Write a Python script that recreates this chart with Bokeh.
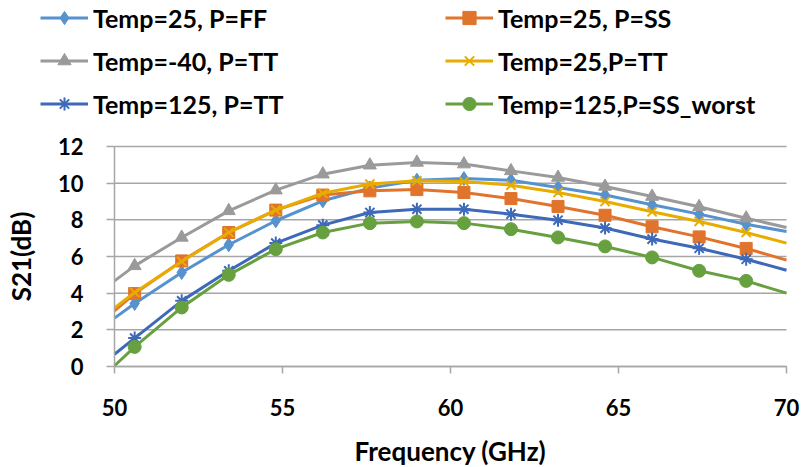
from bokeh.plotting import figure
from bokeh.models import Legend, LegendItem, Range1d, FixedTicker
from bokeh.embed import file_html
from bokeh.resources import INLINE

# Frequency points (GHz): curve ends and marker positions
freq_line = [50.0, 50.6, 52.0, 53.4, 54.8, 56.2, 57.6, 59.0, 60.4, 61.8, 63.2, 64.6, 66.0, 67.4, 68.8, 70.0]
freq_mark = freq_line[1:-1]

labels = ["Temp=25, P=FF", "Temp=25, P=SS", "Temp=-40, P=TT",
          "Temp=25,P=TT", "Temp=125, P=TT", "Temp=125,P=SS_worst"]

s21_25_ff = [2.64, 3.44, 5.13, 6.64, 7.95, 9.04, 9.73, 10.16, 10.25, 10.16, 9.76, 9.35, 8.82, 8.31, 7.76, 7.36]
s21_25_ss = [3.04, 3.98, 5.76, 7.31, 8.53, 9.35, 9.58, 9.65, 9.49, 9.16, 8.73, 8.25, 7.62, 7.07, 6.44, 5.80]
s21_m40_tt = [4.67, 5.49, 7.04, 8.49, 9.62, 10.49, 10.98, 11.13, 11.04, 10.67, 10.31, 9.82, 9.27, 8.71, 8.09, 7.58]
s21_25_tt = [3.20, 4.04, 5.73, 7.31, 8.53, 9.45, 9.95, 10.13, 10.09, 9.89, 9.49, 9.00, 8.44, 7.91, 7.31, 6.73]
s21_125_tt = [0.67, 1.55, 3.58, 5.22, 6.73, 7.71, 8.40, 8.58, 8.58, 8.31, 7.98, 7.55, 6.95, 6.45, 5.85, 5.25]
s21_125_ssw = [0.04, 1.07, 3.22, 5.00, 6.40, 7.31, 7.82, 7.91, 7.82, 7.49, 7.04, 6.55, 5.95, 5.22, 4.67, 4.00]

series = [s21_25_ff, s21_25_ss, s21_m40_tt, s21_25_tt, s21_125_tt, s21_125_ssw]
colors = ["#5592CE", "#E0742C", "#9A9A9A", "#E8AC00", "#3E69B9", "#67A03F"]
markers = ["diamond", "square", "triangle", "x", "asterisk", "circle"]
msizes = [14, 12, 13, 13, 13, 13]

x_ticks = [50, 55, 60, 65, 70]
y_ticks = [0, 2, 4, 6, 8, 10, 12]
X_MIN, X_MAX = 50, 70
Y_MIN, Y_MAX = 0, 12

FONT = "Lato"
GRID = "#A6A6A6"

# The frame covers the whole canvas; the data box (50..70, 0..12) sits at
# pixels x 114..786, y 146..366, with axes pinned to its edges.
W, H = 802, 467
BL, BR, BT, BB = 114, 786, 146, 366
xs = (X_MAX - X_MIN) / (BR - BL)
ys_ = (Y_MAX - Y_MIN) / (BB - BT)
p = figure(width=W, height=H, output_backend="svg", toolbar_location=None,
           x_range=Range1d(X_MIN - BL * xs, X_MAX + (W - BR) * xs),
           y_range=Range1d(Y_MIN - (H - BB) * ys_, Y_MAX + BT * ys_),
           min_border=0, min_border_left=0, min_border_right=0,
           min_border_top=0, min_border_bottom=0)
p.outline_line_color = None
p.grid.visible = False

# horizontal grid lines at the y ticks, spanning the data box
p.segment(x0=[X_MIN] * len(y_ticks), x1=[X_MAX] * len(y_ticks), y0=y_ticks, y1=y_ticks,
          line_color=GRID, line_width=1.5)

p.xaxis.ticker = FixedTicker(ticks=x_ticks)
p.yaxis.ticker = FixedTicker(ticks=y_ticks)
p.xaxis.fixed_location = Y_MIN
p.yaxis.fixed_location = X_MIN
p.xaxis.bounds = (X_MIN, X_MAX)
p.yaxis.bounds = (Y_MIN, Y_MAX)

for ax in (p.xaxis[0], p.yaxis[0]):
    ax.axis_line_color = GRID
    ax.axis_line_width = 1.5
    ax.major_tick_line_color = GRID
    ax.major_tick_line_width = 1.5
    ax.major_tick_in = 0
    ax.minor_tick_line_color = None
    ax.major_label_text_font = FONT
    ax.major_label_text_font_style = "bold"
    ax.major_label_text_font_size = "22px"
    ax.major_label_text_color = "#000000"
    ax.axis_label_text_font = FONT
    ax.axis_label_text_font_style = "bold"
    ax.axis_label_text_font_size = "26px"
    ax.axis_label_text_color = "#000000"

p.xaxis.major_tick_out = 7
p.xaxis.major_label_standoff = 25
p.xaxis.axis_label = "Frequency (GHz)"
p.xaxis.axis_label_standoff = 16
p.yaxis.major_tick_out = 8
p.yaxis.major_label_standoff = 23
p.yaxis.axis_label = "S21(dB)"
p.yaxis.axis_label_standoff = 18

items = []
for lab, yv, c, m, s in zip(labels, series, colors, markers, msizes):
    lw = 2 if m in ("x", "asterisk") else 1
    ln = p.line(freq_line, yv, line_color=c, line_width=3)
    sc = p.scatter(freq_mark, yv[1:-1], marker=m, size=s, fill_color=c, line_color=c, line_width=lw)
    items.append(LegendItem(label=lab, renderers=[ln, sc]))

# legend fills column by column: left column FF, -40, 125TT; right column SS, 25TT, SS_worst
order = [0, 2, 4, 1, 3, 5]
legend = Legend(items=[items[i] for i in order], ncols=2, location=(40, 347),
                glyph_width=48, glyph_height=33, label_height=25,
                label_width=342, label_standoff=5, spacing=10,
                padding=0, margin=0, border_line_color=None,
                background_fill_alpha=0)
legend.label_text_font = FONT
legend.label_text_font_style = "bold"
legend.label_text_font_size = "25px"
legend.label_text_color = "#000000"
p.add_layout(legend)

open("out.html", "w").write(file_html(p, INLINE))
